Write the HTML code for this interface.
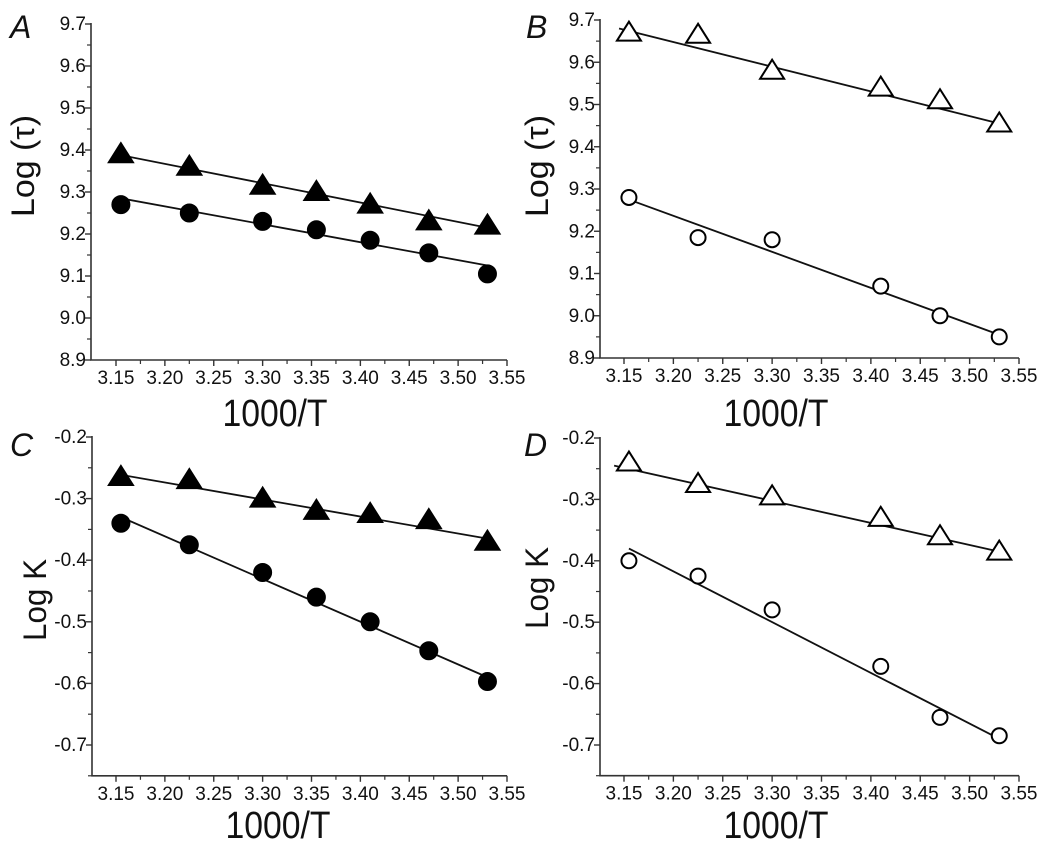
<!DOCTYPE html>
<html><head><meta charset="utf-8"><style>
body{margin:0;background:#fff}
svg text{font-family:"Liberation Sans",sans-serif;fill:#111}
</style></head><body>
<svg id="chart" width="1045" height="858" viewBox="0 0 1045 858" xmlns="http://www.w3.org/2000/svg"></svg>
<script>
const xA=[3.155,3.225,3.30,3.355,3.41,3.47,3.53];
const triA=[9.39,9.36,9.315,9.30,9.27,9.23,9.22];
const cirA=[9.27,9.25,9.23,9.21,9.185,9.155,9.105];
const fitTriA=[9.39,9.215];
const fitCirA=[9.285,9.125];
const xB=[3.155,3.225,3.30,3.41,3.47,3.53];
const triB=[9.67,9.665,9.58,9.54,9.51,9.455];
const cirB=[9.28,9.185,9.18,9.07,9.0,8.95];
const fitTriB=[9.68,9.455];
const fitCirB=[9.275,8.955];
const xC=[3.155,3.225,3.30,3.355,3.41,3.47,3.53];
const triC=[-0.265,-0.27,-0.30,-0.32,-0.325,-0.335,-0.37];
const cirC=[-0.34,-0.375,-0.42,-0.46,-0.50,-0.547,-0.597];
const fitTriC=[-0.26,-0.365];
const fitCirC=[-0.33,-0.59];
const xD=[3.155,3.225,3.30,3.41,3.47,3.53];
const triD=[-0.24,-0.275,-0.295,-0.33,-0.36,-0.385];
const cirD=[-0.40,-0.425,-0.48,-0.572,-0.655,-0.685];
const fitTriD=[-0.245,-0.385];
const fitCirD=[-0.38,-0.69];
const xTicks=["3.15","3.20","3.25","3.30","3.35","3.40","3.45","3.50","3.55"];
const yTicksTau=["8.9","9.0","9.1","9.2","9.3","9.4","9.5","9.6","9.7"];
const yTicksK=["-0.7","-0.6","-0.5","-0.4","-0.3","-0.2"];

const svg=document.getElementById('chart');
const NS='http://www.w3.org/2000/svg';
function mk(tag,attrs,parent){const e=document.createElementNS(NS,tag);for(const k in attrs)e.setAttribute(k,attrs[k]);(parent||svg).appendChild(e);return e;}

function panel(cfg){
  const g=mk('g',{});
  
  
  const xs=v=>cfg.x315+(v-3.15)/0.4*cfg.xw;
  const ys=v=>cfg.yTop+(cfg.yMax-v)/(cfg.yMax-cfg.yMinLab)*(cfg.yBotLab-cfg.yTop);
  const axisY=ys(cfg.yAxisMin);
  const ax=mk('path',{d:`M${cfg.ax0},${ys(cfg.yMax)-1} V${axisY} H${xs(3.55)}`,stroke:'#333',fill:'none','stroke-width':1.6},g);
  
  
  for(let i=0;i<xTicks.length;i++){
    const v=parseFloat(xTicks[i]);const x=xs(v);
    mk('line',{x1:x,x2:x,y1:axisY,y2:axisY+6,stroke:'#333','stroke-width':1.4},g);
    if(i<xTicks.length-1){const xm=xs(v+0.025);mk('line',{x1:xm,x2:xm,y1:axisY,y2:axisY+4,stroke:'#333','stroke-width':1.2},g);}
    const t=mk('text',{x:x,y:axisY+24,'text-anchor':'middle','font-size':19},g);t.textContent=xTicks[i];
    
    
  }
  for(const lab of cfg.yt){
    const v=parseFloat(lab);const y=ys(v);
    mk('line',{x1:cfg.ax0-6,x2:cfg.ax0,y1:y,y2:y,stroke:'#333','stroke-width':1.4},g);
    const ym=ys(v-cfg.step/2);
    if(v-cfg.step/2>=cfg.yAxisMin-1e-9) mk('line',{x1:cfg.ax0-4,x2:cfg.ax0,y1:ym,y2:ym,stroke:'#333','stroke-width':1.2},g);
    const t=mk('text',{x:cfg.ax0-5,y:y+6,'text-anchor':'end','font-size':19},g);t.textContent=lab;
    
    
  }
  [[cfg.ft,cfg.ftx],[cfg.fc,cfg.fcx]].forEach(([f,fx],k)=>{
    const l=mk('line',{x1:xs(fx[0]),y1:ys(f[0]),x2:xs(fx[1]),y2:ys(f[1]),stroke:'#111','stroke-width':1.8},g);
    
    
  });
  const fill=cfg.open?'#fff':'#000';
  cfg.xv.forEach((xv,i)=>{
    const cx=xs(xv),cy=ys(cfg.tri[i]);
    const p=mk('polygon',{points:`${cx},${cy-11} ${cx-12},${cy+8} ${cx+12},${cy+8}`,fill:fill,stroke:'#000','stroke-width':2},g);
    
    
    const c=mk('circle',{cx:cx,cy:ys(cfg.cir[i]),r:cfg.open?7.5:8.5,fill:fill,stroke:'#000','stroke-width':2},g);
    
    
  });
  const L=mk('text',{x:cfg.lx,y:cfg.ly,'font-size':32,'font-style':'italic'},g);L.textContent=cfg.id;
  
  
  const yt=mk('text',{x:0,y:0,'font-size':32,'text-anchor':'middle',textLength:cfg.ytl,lengthAdjust:'spacingAndGlyphs',transform:`translate(${cfg.ytx},${cfg.yty}) rotate(-90)`},g);yt.textContent=cfg.ytitle;
  
  
  const xt=mk('text',{x:cfg.xtx,y:cfg.xty,'font-size':38,'text-anchor':'middle',textLength:105,lengthAdjust:'spacingAndGlyphs'},g);xt.textContent='1000/T';
  
  
}
panel({id:'A',x315:116,xw:391,ax0:91,yTop:24,yMax:9.7,yMinLab:8.9,yBotLab:360,yAxisMin:8.9,step:0.1,yt:yTicksTau,
  xv:xA,tri:triA,cir:cirA,ft:fitTriA,ftx:[3.15,3.53],fc:fitCirA,fcx:[3.155,3.53],open:false,lx:10,ly:38,ytitle:'Log (τ)',ytl:102,ytx:34,yty:166,xtx:275,xty:426});
panel({id:'B',x315:624,xw:395,ax0:600,yTop:20,yMax:9.7,yMinLab:8.9,yBotLab:358,yAxisMin:8.9,step:0.1,yt:yTicksTau,
  xv:xB,tri:triB,cir:cirB,ft:fitTriB,ftx:[3.145,3.53],fc:fitCirB,fcx:[3.155,3.53],open:true,lx:526,ly:38,ytitle:'Log (τ)',ytl:102,ytx:548,yty:166,xtx:776,xty:426});
panel({id:'C',x315:116,xw:391,ax0:92,yTop:437,yMax:-0.2,yMinLab:-0.7,yBotLab:745,yAxisMin:-0.75,step:0.1,yt:yTicksK,
  xv:xC,tri:triC,cir:cirC,ft:fitTriC,ftx:[3.15,3.53],fc:fitCirC,fcx:[3.155,3.53],open:false,lx:10,ly:456,ytitle:'Log K',ytl:82,ytx:46,yty:600,xtx:278,xty:838});
panel({id:'D',x315:624,xw:395,ax0:600,yTop:438,yMax:-0.2,yMinLab:-0.7,yBotLab:745,yAxisMin:-0.75,step:0.1,yt:yTicksK,
  xv:xD,tri:triD,cir:cirD,ft:fitTriD,ftx:[3.14,3.53],fc:fitCirD,fcx:[3.155,3.53],open:true,lx:524,ly:456,ytitle:'Log K',ytl:82,ytx:548,yty:588,xtx:776,xty:838});
</script>
</body></html>
